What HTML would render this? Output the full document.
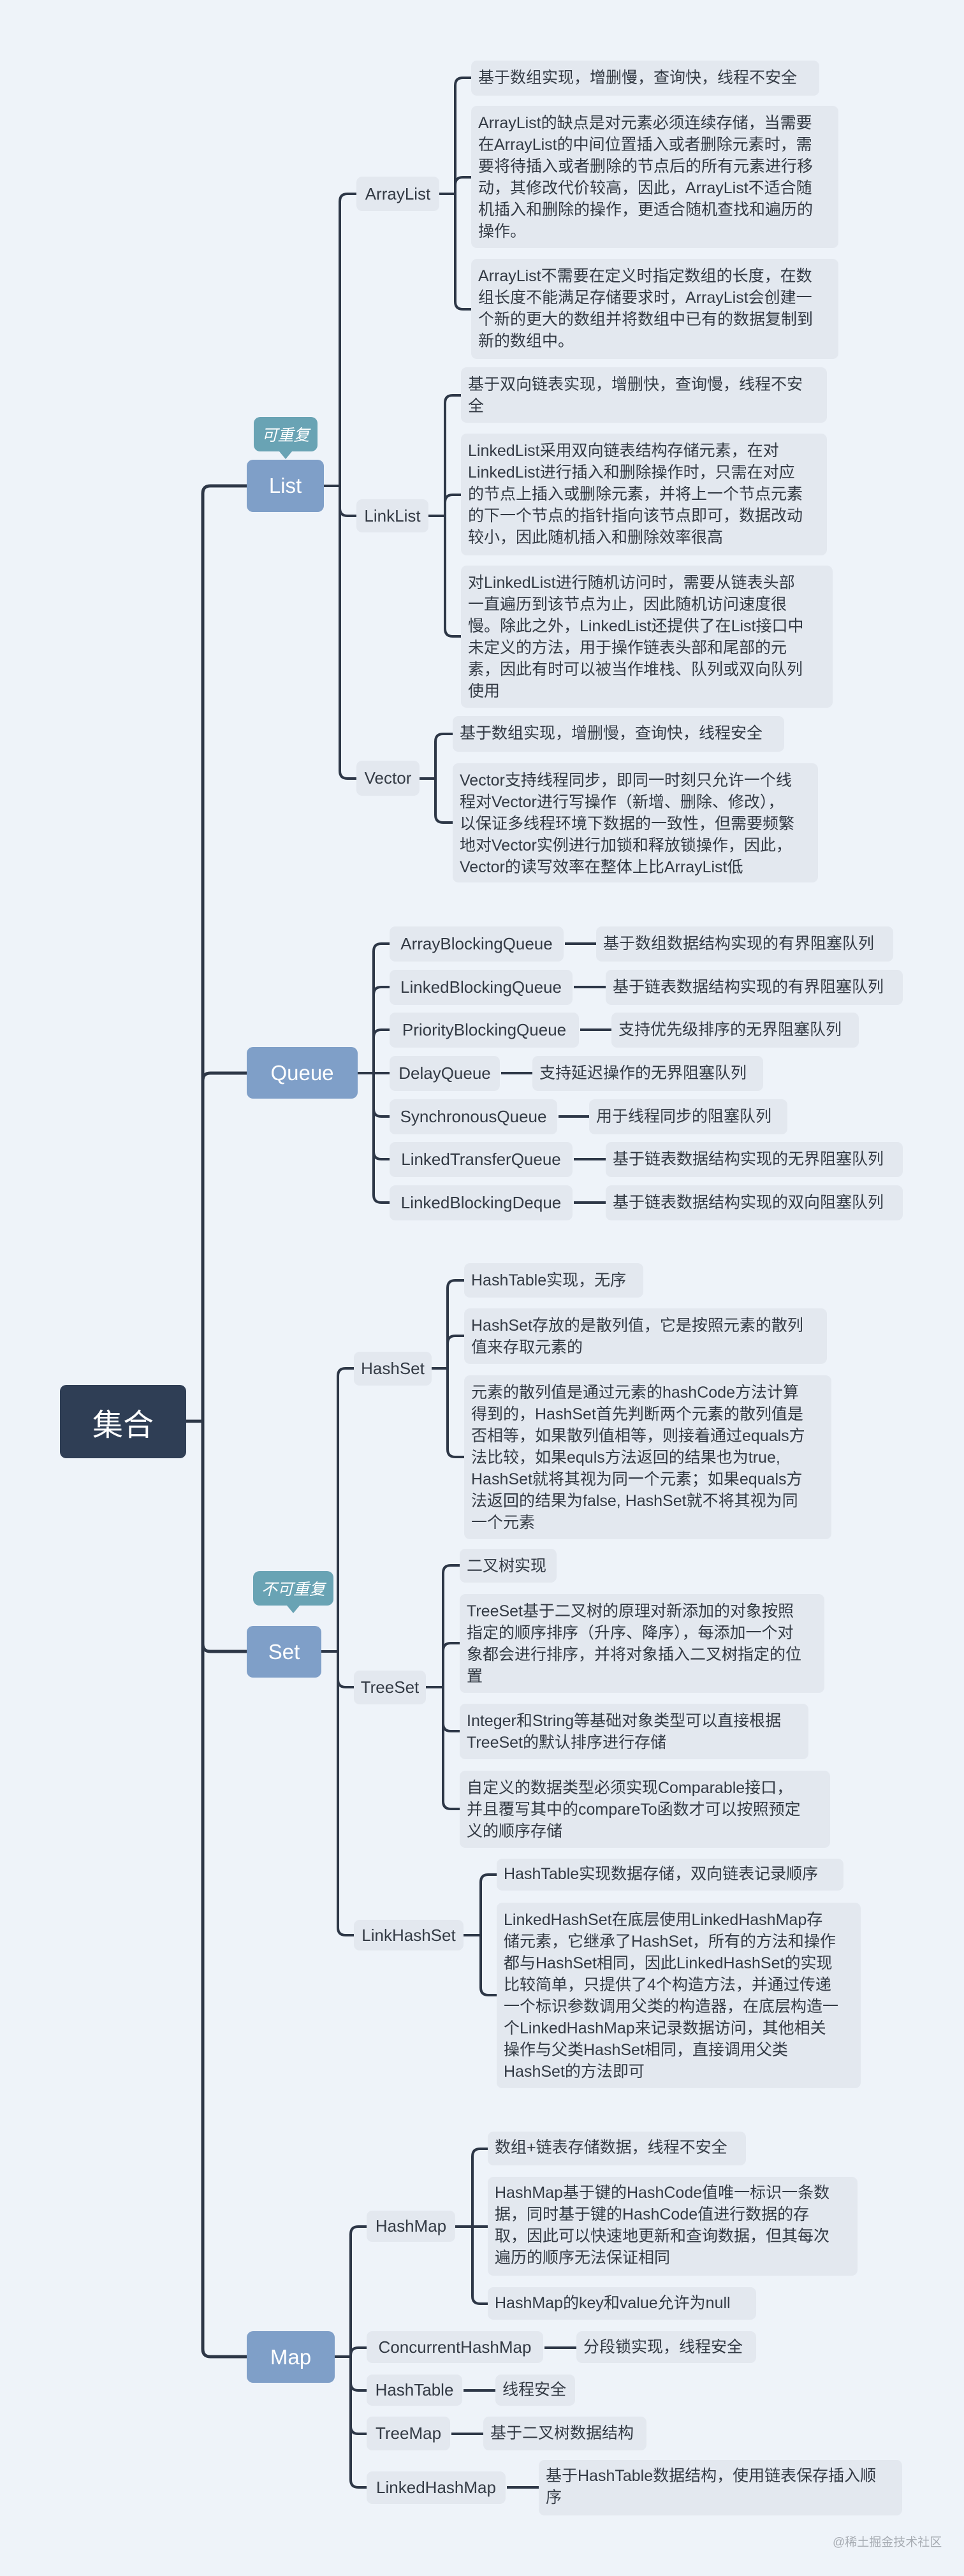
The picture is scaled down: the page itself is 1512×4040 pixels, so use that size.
<!DOCTYPE html>
<html><head><meta charset="utf-8">
<style>
html,body{margin:0;padding:0}
body{width:1512px;height:4040px;background:#eef3f9;position:relative;overflow:hidden;font-family:"Liberation Sans","Noto Sans CJK SC",sans-serif;color:#333a44}
.b{position:absolute;background:#e3e8ef;border-radius:9px;box-sizing:border-box;font-size:25px;line-height:34px;padding:10px 11px;white-space:nowrap}
.n{position:absolute;background:#e3e8ef;border-radius:9px;box-sizing:border-box;font-size:26px;display:flex;align-items:center;justify-content:center;white-space:nowrap}
.m{position:absolute;background:#7f9fc8;border-radius:10px;color:#fff;font-size:33px;display:flex;align-items:center;justify-content:center}
.c{position:absolute;background:#69a3b4;border-radius:10px;color:#fff;font-style:italic;font-size:25px;display:flex;align-items:center;justify-content:center}
.c:after{content:"";position:absolute;left:50%;bottom:-12px;margin-left:-10px;border-left:10px solid transparent;border-right:10px solid transparent;border-top:12px solid #69a3b4}
svg{position:absolute;left:0;top:0}
</style></head><body>
<svg width="1512" height="4040" fill="none" stroke="#2d3747" stroke-width="4">
<!-- root trunk -->
<path stroke-width="5" d="M292 2229H318 M318 2229 V774 Q318 762 330 762 H387 M318 2229 V1695 Q318 1683 330 1683 H387 M318 2229 V2578 Q318 2590 330 2590 H387 M318 2229 V3684 Q318 3696 330 3696 H387"/>
<!-- List -->
<path d="M508 762H533 M533 762V316Q533 304 545 304H559 M533 762V797Q533 809 545 809H559 M533 762V1209Q533 1221 545 1221H559"/>
<path d="M689 304H714 M714 304V134Q714 122 726 122H739 M714 304V290Q714 278 726 278H739 M714 304V473Q714 485 726 485H739"/>
<path d="M672 809H698 M698 809V632Q698 620 710 620H723 M698 809V788Q698 776 710 776H723 M698 809V986Q698 998 710 998H723"/>
<path d="M658 1221H683 M683 1221V1163Q683 1151 695 1151H710 M683 1221V1278Q683 1290 695 1290H710"/>
<!-- Queue -->
<path d="M561 1683H586 M586 1683V1492Q586 1480 598 1480H611 M586 1683V1560Q586 1548 598 1548H611 M586 1683V1627Q586 1615 598 1615H611 M586 1683H611 M586 1683V1739Q586 1751 598 1751H611 M586 1683V1806Q586 1818 598 1818H611 M586 1683V1874Q586 1886 598 1886H611"/>
<path d="M886 1480H935 M900 1548H950 M910 1615H959 M786 1683H835 M876 1751H924 M900 1818H950 M900 1886H950"/>
<!-- Set -->
<path d="M504 2590H530 M530 2590V2158Q530 2146 542 2146H555 M530 2590V2634Q530 2646 542 2646H555 M530 2590V3023Q530 3035 542 3035H555"/>
<path d="M677 2146H702 M702 2146V2020Q702 2008 714 2008H728 M702 2146V2107Q702 2095 714 2095H728 M702 2146V2273Q702 2285 714 2285H728"/>
<path d="M668 2646H695 M695 2646V2467Q695 2455 707 2455H721 M695 2646V2589Q695 2577 707 2577H721 M695 2646V2703Q695 2715 707 2715H721 M695 2646V2825Q695 2837 707 2837H721"/>
<path d="M727 3035H754 M754 3035V2952Q754 2940 766 2940H779 M754 3035V3117Q754 3129 766 3129H779"/>
<!-- Map -->
<path d="M525 3696H550 M550 3696V3504Q550 3492 562 3492H575 M550 3696V3694Q550 3682 562 3682H575 M550 3696V3737Q550 3749 562 3749H575 M550 3696V3805Q550 3817 562 3817H575 M550 3696V3889Q550 3901 562 3901H575"/>
<path d="M714 3492H741 M741 3492V3382Q741 3370 753 3370H765 M741 3492H765 M741 3492V3601Q741 3613 753 3613H765"/>
<path d="M854 3682H904 M727 3749H777 M708 3817H758 M795 3901H845"/>
</svg>

<div class="m" style="left:94px;top:2172px;width:198px;height:115px;background:#2f3e55;font-size:48px">集合</div>

<div class="c" style="left:398px;top:654px;width:100px;height:54px">可重复</div>
<div class="m" style="left:387px;top:721px;width:121px;height:82px">List</div>
<div class="m" style="left:387px;top:1642px;width:174px;height:81px">Queue</div>
<div class="c" style="left:397px;top:2464px;width:126px;height:54px">不可重复</div>
<div class="m" style="left:387px;top:2550px;width:117px;height:81px">Set</div>
<div class="m" style="left:387px;top:3656px;width:138px;height:81px">Map</div>

<!-- List children -->
<div class="n" style="left:559px;top:277px;width:130px;height:54px">ArrayList</div>
<div class="n" style="left:559px;top:783px;width:113px;height:52px">LinkList</div>
<div class="n" style="left:559px;top:1193px;width:99px;height:55px">Vector</div>

<div class="b" style="left:739px;top:95px;width:546px;height:55px">基于数组实现，增删慢，查询快，线程不安全</div>
<div class="b" style="left:739px;top:166px;width:576px;height:223px">ArrayList的缺点是对元素必须连续存储，当需要<br>在ArrayList的中间位置插入或者删除元素时，需<br>要将待插入或者删除的节点后的所有元素进行移<br>动，其修改代价较高，因此，ArrayList不适合随<br>机插入和删除的操作，更适合随机查找和遍历的<br>操作。</div>
<div class="b" style="left:739px;top:406px;width:576px;height:157px">ArrayList不需要在定义时指定数组的长度，在数<br>组长度不能满足存储要求时，ArrayList会创建一<br>个新的更大的数组并将数组中已有的数据复制到<br>新的数组中。</div>

<div class="b" style="left:723px;top:576px;width:574px;height:87px">基于双向链表实现，增删快，查询慢，线程不安<br>全</div>
<div class="b" style="left:723px;top:680px;width:574px;height:191px">LinkedList采用双向链表结构存储元素，在对<br>LinkedList进行插入和删除操作时，只需在对应<br>的节点上插入或删除元素，并将上一个节点元素<br>的下一个节点的指针指向该节点即可，数据改动<br>较小，因此随机插入和删除效率很高</div>
<div class="b" style="left:723px;top:887px;width:583px;height:223px">对LinkedList进行随机访问时，需要从链表头部<br>一直遍历到该节点为止，因此随机访问速度很<br>慢。除此之外，LinkedList还提供了在List接口中<br>未定义的方法，用于操作链表头部和尾部的元<br>素，因此有时可以被当作堆栈、队列或双向队列<br>使用</div>

<div class="b" style="left:710px;top:1123px;width:520px;height:56px">基于数组实现，增删慢，查询快，线程安全</div>
<div class="b" style="left:710px;top:1197px;width:573px;height:187px">Vector支持线程同步，即同一时刻只允许一个线<br>程对Vector进行写操作（新增、删除、修改），<br>以保证多线程环境下数据的一致性，但需要频繁<br>地对Vector实例进行加锁和释放锁操作，因此，<br>Vector的读写效率在整体上比ArrayList低</div>

<!-- Queue children -->
<div class="n" style="left:611px;top:1453px;width:273px;height:55px">ArrayBlockingQueue</div>
<div class="b" style="left:935px;top:1453px;width:466px;height:55px">基于数组数据结构实现的有界阻塞队列</div>
<div class="n" style="left:611px;top:1521px;width:287px;height:55px">LinkedBlockingQueue</div>
<div class="b" style="left:950px;top:1521px;width:466px;height:55px">基于链表数据结构实现的有界阻塞队列</div>
<div class="n" style="left:611px;top:1588px;width:297px;height:55px">PriorityBlockingQueue</div>
<div class="b" style="left:959px;top:1588px;width:388px;height:55px">支持优先级排序的无界阻塞队列</div>
<div class="n" style="left:611px;top:1656px;width:173px;height:55px">DelayQueue</div>
<div class="b" style="left:835px;top:1656px;width:362px;height:55px">支持延迟操作的无界阻塞队列</div>
<div class="n" style="left:611px;top:1724px;width:263px;height:55px">SynchronousQueue</div>
<div class="b" style="left:924px;top:1724px;width:311px;height:55px">用于线程同步的阻塞队列</div>
<div class="n" style="left:611px;top:1791px;width:287px;height:55px">LinkedTransferQueue</div>
<div class="b" style="left:950px;top:1791px;width:466px;height:55px">基于链表数据结构实现的无界阻塞队列</div>
<div class="n" style="left:611px;top:1859px;width:287px;height:55px">LinkedBlockingDeque</div>
<div class="b" style="left:950px;top:1859px;width:466px;height:55px">基于链表数据结构实现的双向阻塞队列</div>

<!-- Set children -->
<div class="n" style="left:555px;top:2120px;width:122px;height:53px">HashSet</div>
<div class="n" style="left:555px;top:2620px;width:113px;height:53px">TreeSet</div>
<div class="n" style="left:555px;top:3011px;width:172px;height:48px">LinkHashSet</div>

<div class="b" style="left:728px;top:1981px;width:281px;height:54px">HashTable实现，无序</div>
<div class="b" style="left:728px;top:2052px;width:569px;height:87px">HashSet存放的是散列值，它是按照元素的散列<br>值来存取元素的</div>
<div class="b" style="left:728px;top:2157px;width:576px;height:257px">元素的散列值是通过元素的hashCode方法计算<br>得到的，HashSet首先判断两个元素的散列值是<br>否相等，如果散列值相等，则接着通过equals方<br>法比较，如果equls方法返回的结果也为true,<br>HashSet就将其视为同一个元素；如果equals方<br>法返回的结果为false, HashSet就不将其视为同<br>一个元素</div>

<div class="b" style="left:721px;top:2429px;width:152px;height:53px">二叉树实现</div>
<div class="b" style="left:721px;top:2500px;width:572px;height:155px">TreeSet基于二叉树的原理对新添加的对象按照<br>指定的顺序排序（升序、降序），每添加一个对<br>象都会进行排序，并将对象插入二叉树指定的位<br>置</div>
<div class="b" style="left:721px;top:2672px;width:547px;height:87px">Integer和String等基础对象类型可以直接根据<br>TreeSet的默认排序进行存储</div>
<div class="b" style="left:721px;top:2777px;width:581px;height:121px">自定义的数据类型必须实现Comparable接口，<br>并且覆写其中的compareTo函数才可以按照预定<br>义的顺序存储</div>

<div class="b" style="left:779px;top:2915px;width:544px;height:50px;padding-top:7px">HashTable实现数据存储，双向链表记录顺序</div>
<div class="b" style="left:779px;top:2984px;width:571px;height:291px">LinkedHashSet在底层使用LinkedHashMap存<br>储元素，它继承了HashSet，所有的方法和操作<br>都与HashSet相同，因此LinkedHashSet的实现<br>比较简单，只提供了4个构造方法，并通过传递<br>一个标识参数调用父类的构造器，在底层构造一<br>个LinkedHashMap来记录数据访问，其他相关<br>操作与父类HashSet相同，直接调用父类<br>HashSet的方法即可</div>

<!-- Map children -->
<div class="n" style="left:575px;top:3467px;width:139px;height:49px">HashMap</div>
<div class="n" style="left:575px;top:3656px;width:277px;height:50px">ConcurrentHashMap</div>
<div class="n" style="left:575px;top:3724px;width:150px;height:49px">HashTable</div>
<div class="n" style="left:575px;top:3790px;width:131px;height:53px">TreeMap</div>
<div class="n" style="left:575px;top:3876px;width:218px;height:51px">LinkedHashMap</div>

<div class="b" style="left:765px;top:3343px;width:405px;height:53px;padding-top:8px">数组+链表存储数据，线程不安全</div>
<div class="b" style="left:765px;top:3414px;width:580px;height:155px;padding-top:8px">HashMap基于键的HashCode值唯一标识一条数<br>据，同时基于键的HashCode值进行数据的存<br>取，因此可以快速地更新和查询数据，但其每次<br>遍历的顺序无法保证相同</div>
<div class="b" style="left:765px;top:3587px;width:421px;height:51px;padding-top:8px">HashMap的key和value允许为null</div>
<div class="b" style="left:904px;top:3656px;width:282px;height:50px;padding-top:8px">分段锁实现，线程安全</div>
<div class="b" style="left:777px;top:3724px;width:125px;height:49px;padding-top:7px">线程安全</div>
<div class="b" style="left:758px;top:3790px;width:256px;height:53px;padding-top:9px">基于二叉树数据结构</div>
<div class="b" style="left:845px;top:3858px;width:570px;height:87px;padding-top:8px">基于HashTable数据结构，使用链表保存插入顺<br>序</div>

<div style="position:absolute;left:1306px;top:3972px;font-size:19px;color:#a7acb3;white-space:nowrap">@稀土掘金技术社区</div>
</body></html>
